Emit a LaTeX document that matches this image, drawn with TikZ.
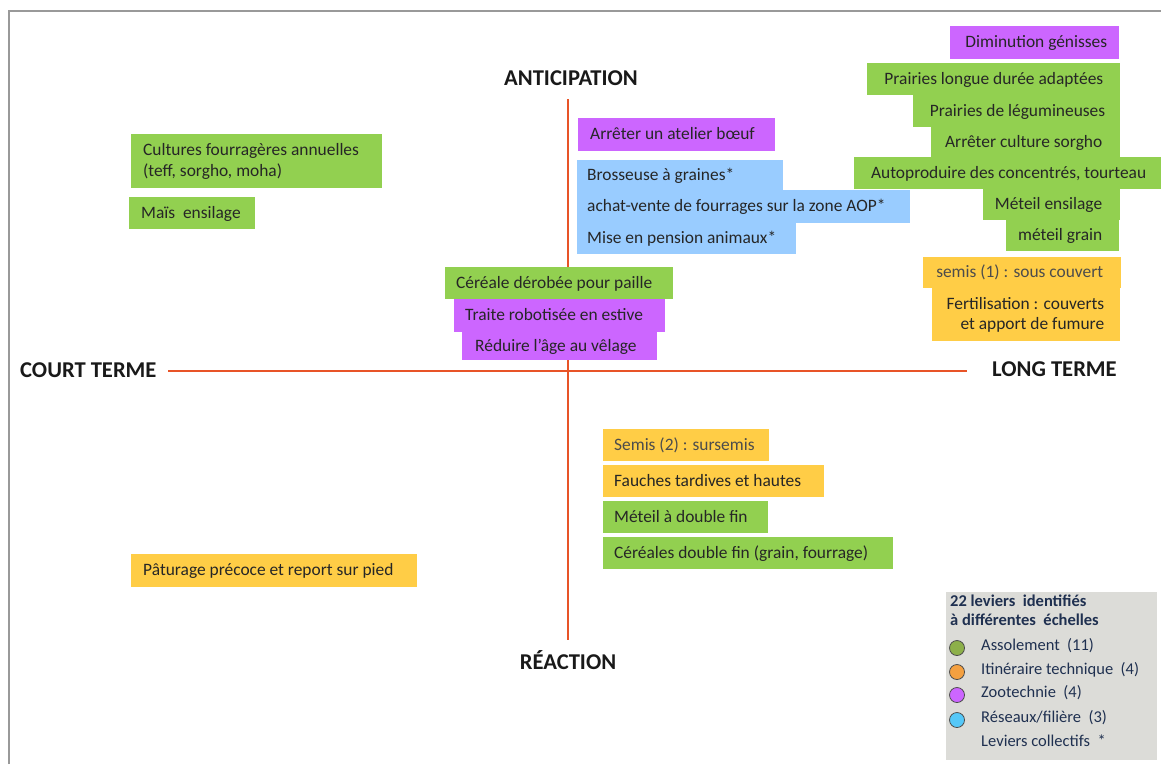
\documentclass[tikz,border=0pt]{standalone}
\usepackage{fontspec}
\setmainfont{Carlito}
\usetikzlibrary{positioning}

\definecolor{lvgreen}{HTML}{92D050}
\definecolor{lvpurple}{HTML}{CC66FF}
\definecolor{lvblue}{HTML}{99CCFF}
\definecolor{lvyellow}{HTML}{FFCD46}
\definecolor{axisred}{HTML}{E85428}
\definecolor{legbg}{HTML}{DCDCD8}
\definecolor{legtxt}{HTML}{1F3050}
\definecolor{dotgreen}{HTML}{8DB04A}
\definecolor{dotorange}{HTML}{F4A040}
\definecolor{dotpurple}{HTML}{CC66FF}
\definecolor{dotblue}{HTML}{55C8F8}

% box width, padding, text
\newcommand{\lvstrut}{\rule[-5pt]{0pt}{20pt}}
\newcommand{\lin}[3]{\makebox[#1pt][l]{\hspace{#2pt}\lvstrut#3}}
\newcommand{\rin}[3]{\makebox[#1pt][r]{\lvstrut#3\hspace{#2pt}}}

\tikzset{
  lever/.style={anchor=north west, fill=#1, inner sep=0pt,
    font=\fontsize{17.4}{21}\selectfont, text=black!85, align=left},
  leverR/.style={lever=#1, align=right},
  axistitle/.style={font=\fontsize{22.6}{26}\selectfont\bfseries, text=black!90, inner sep=0pt},
  legitem/.style={anchor=west, font=\fontsize{16.5}{19}\selectfont, text=legtxt, inner sep=0pt},
  dot/.style={circle, draw=black!70, line width=0.8pt, fill=#1, minimum size=15pt, inner sep=0pt}
}

\begin{document}
\begin{tikzpicture}[x=1pt, y=-1pt]
\useasboundingbox (0,0) rectangle (1161,764);
\draw[gray!80, line width=1.2pt] (9,764) -- (9,11) -- (1161,11);

% axes
\node[axistitle] (antic) at (571,78) {ANTICIPATION};
\node[axistitle] (react) at (568,660) {RÉACTION};
\node[axistitle, anchor=west] (court) at (20,370) {COURT TERME};
\node[axistitle, anchor=west] (long) at (992,369) {LONG TERME};
\coordinate (axtop) at (568,99);
\coordinate (axbot) at (568,640);
\coordinate (axleft) at (168,371);
\coordinate (axright) at (967,371);
\draw[axisred, line width=1.5pt] (axtop) -- (axbot);
\draw[axisred, line width=1.5pt] (axleft) -- (axright);

% short term, anticipation
\node[lever=lvgreen, minimum height=54pt] (cult) at (131,134)
  {\lin{251}{12}{Cultures fourragères annuelles}\\\lin{251}{12}{(teff, sorgho, moha)}};
\node[lever=lvgreen, minimum height=32pt] (mais) at (129,197) {\lin{126}{12}{Maïs\ \ ensilage}};

% centre
\node[lever=lvpurple, minimum height=33pt] (atelier) at (578,118) {\lin{197}{12}{Arrêter un atelier bœuf}};
\node[lever=lvblue, minimum height=30pt] (brosse) at (577,160) {\lin{206}{10}{Brosseuse à graines*}};
\node[lever=lvblue, minimum height=33pt] (achat) at (577,190) {\lin{333}{10}{achat-vente de fourrages sur la zone AOP*}};
\node[lever=lvblue, minimum height=31pt] (pension) at (577,223) {\lin{219}{10}{Mise en pension animaux*}};
\node[lever=lvgreen, minimum height=32pt] (derobee) at (445,267) {\lin{228}{11}{Céréale dérobée pour paille}};
\node[lever=lvpurple, minimum height=33pt] (traite) at (454,299) {\lin{211}{11}{Traite robotisée en estive}};
\node[lever=lvpurple, minimum height=28pt] (velage) at (462,332) {\lin{195}{13}{Réduire l’âge au vêlage}};

% long term, anticipation
\node[leverR=lvpurple, minimum height=33pt] (genisses) at (950,26) {\rin{169}{12}{Diminution génisses}};
\node[leverR=lvgreen, minimum height=32pt] (prairies) at (867,63) {\rin{253}{17}{Prairies longue durée adaptées}};
\node[leverR=lvgreen, minimum height=32pt] (legum) at (913,95) {\rin{207}{15}{Prairies de légumineuses}};
\node[leverR=lvgreen, minimum height=30pt] (sorgho) at (931,127) {\rin{189}{18}{Arrêter culture sorgho}};
\node[leverR=lvgreen, minimum height=32pt] (autoprod) at (854,157) {\rin{307}{15}{Autoproduire des concentrés, tourteau}};
\node[leverR=lvgreen, minimum height=31pt] (ensil) at (983,189) {\rin{137}{18}{Méteil ensilage}};
\node[leverR=lvgreen, minimum height=31pt] (mgrain) at (1006,220) {\rin{113}{17}{méteil grain}};
\node[leverR=lvyellow, minimum height=31pt, text=black!70] (semisa) at (923,257) {\rin{198}{18}{semis (1) : sous couvert}};
\node[leverR=lvyellow, minimum height=53pt, font=\fontsize{17.4}{20}\selectfont] (fertil) at (932,288)
  {\rin{188}{16}{Fertilisation : couverts}\\\rin{188}{16}{et apport de fumure}};

% reaction
\node[lever=lvyellow, minimum height=32pt, text=black!70] (semisb) at (603,429) {\lin{166}{11}{Semis (2) : sursemis}};
\node[lever=lvyellow, minimum height=32pt] (fauches) at (603,465) {\lin{221}{11}{Fauches tardives et hautes}};
\node[lever=lvgreen, minimum height=32pt] (dblfin) at (603,501) {\lin{165}{11}{Méteil à double fin}};
\node[lever=lvgreen, minimum height=32pt] (cerdbl) at (603,537) {\lin{290}{11}{Céréales double fin (grain, fourrage)}};
\node[lever=lvyellow, minimum height=33pt] (paturage) at (131,554) {\lin{286}{12}{Pâturage précoce et report sur pied}};

% legend
\node[anchor=north west, fill=legbg, minimum width=211pt, minimum height=168pt, inner sep=0pt] (legend) at (946,592) {};
\node[legitem, font=\fontsize{16.5}{19}\selectfont\bfseries, anchor=north west, align=left] (legtitle) at (950,595)
  {22 leviers\ \ identifiés\\à différentes\ \ échelles};
\foreach \c/\t/\y [count=\i] in {dotgreen/{Assolement\ \ (11)}/648, dotorange/{Itinéraire technique\ \ (4)}/672,
    dotpurple/{Zootechnie\ \ (4)}/695, dotblue/{Réseaux/filière\ \ (3)}/720}{
  \node[dot=\c] (dot\i) at (957,\y) {};
  \node[legitem] (leg\i) at (981,\y-2) {\t};
}
\node[legitem] (legcoll) at (981,741) {Leviers collectifs\ \ *};
\end{tikzpicture}
\end{document}
